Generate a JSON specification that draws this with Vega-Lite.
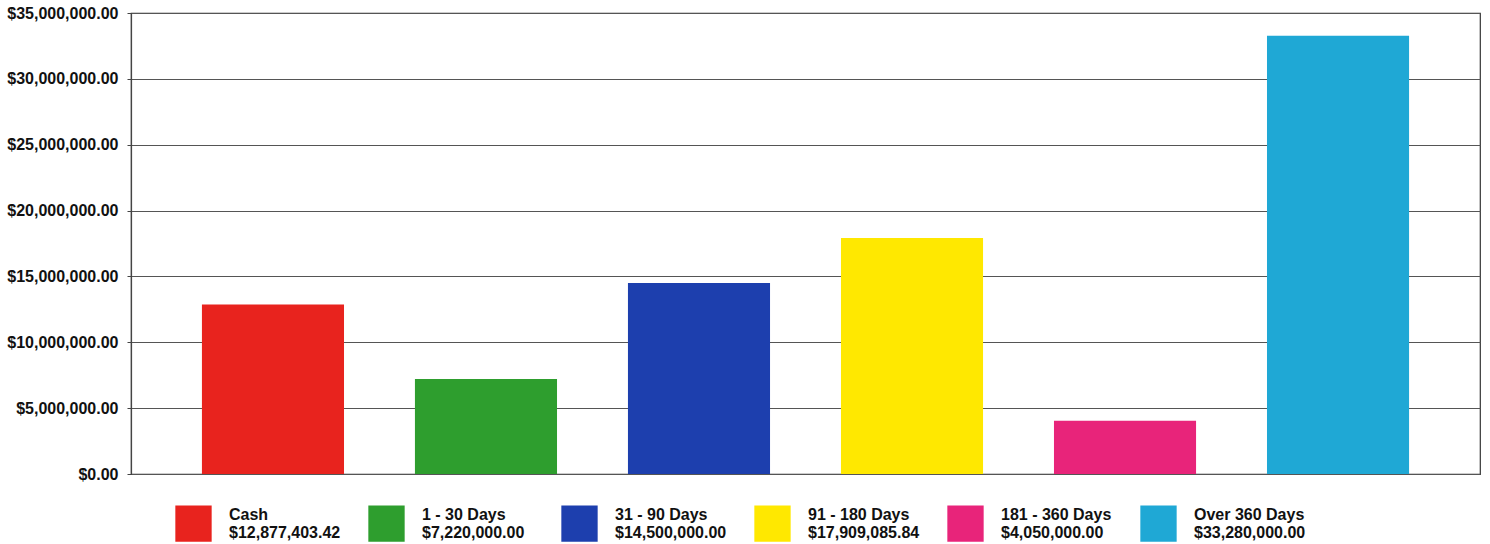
{
  "$schema": "https://vega.github.io/schema/vega-lite/v6.json",
  "autosize": "none",
  "width": 1349,
  "height": 461,
  "padding": {"left": 131, "top": 13, "right": 10, "bottom": 70},
  "background": "white",
  "config": {
    "font": "Liberation Sans",
    "view": {"stroke": "#333", "strokeWidth": 1.2}
  },
  "data": {
    "values": [
      {"key": "Cash|$12,877,403.42", "value": 12877403.42},
      {"key": "1 - 30 Days|$7,220,000.00", "value": 7220000},
      {"key": "31 - 90 Days|$14,500,000.00", "value": 14500000},
      {"key": "91 - 180 Days|$17,909,085.84", "value": 17909085.84},
      {"key": "181 - 360 Days|$4,050,000.00", "value": 4050000},
      {"key": "Over 360 Days|$33,280,000.00", "value": 33280000}
    ]
  },
  "mark": {"type": "bar", "strokeWidth": 0},
  "encoding": {
    "x": {
      "field": "key",
      "type": "nominal",
      "sort": null,
      "scale": {"paddingInner": 0.333, "paddingOuter": 0.333},
      "axis": null
    },
    "y": {
      "field": "value",
      "type": "quantitative",
      "scale": {"domain": [0, 35000000], "nice": false},
      "axis": {
        "title": null,
        "values": [0, 5000000, 10000000, 15000000, 20000000, 25000000, 30000000, 35000000],
        "format": "$,.2f",
        "labelFont": "Liberation Sans",
        "labelFontSize": 16,
        "labelFontWeight": "bold",
        "labelColor": "#111",
        "labelPadding": 9,
        "tickSize": 4,
        "tickColor": "#444",
        "domainColor": "#444",
        "domainWidth": 1.2,
        "gridColor": "#555",
        "gridWidth": 1,
        "grid": true
      }
    },
    "color": {
      "field": "key",
      "type": "nominal",
      "sort": null,
      "scale": {
        "range": ["#e8231e", "#2e9e2e", "#1d3fae", "#ffe800", "#e8247a", "#1fa8d5"]
      },
      "legend": {
        "title": null,
        "orient": "none",
        "legendX": 44,
        "legendY": 492,
        "direction": "horizontal",
        "columns": 6,
        "gridAlign": "all",
        "symbolType": "square",
        "symbolSize": 1320,
        "symbolStrokeWidth": 0,
        "symbolOpacity": 1,
        "labelExpr": "split(datum.label, '|')",
        "labelFont": "Liberation Sans",
        "labelFontSize": 16,
        "labelFontWeight": "bold",
        "labelBaseline": "line-bottom",
        "labelColor": "#111",
        "labelLimit": 300,
        "labelOffset": 17,
        "columnPadding": 27,
        "padding": 0
      }
    }
  }
}
